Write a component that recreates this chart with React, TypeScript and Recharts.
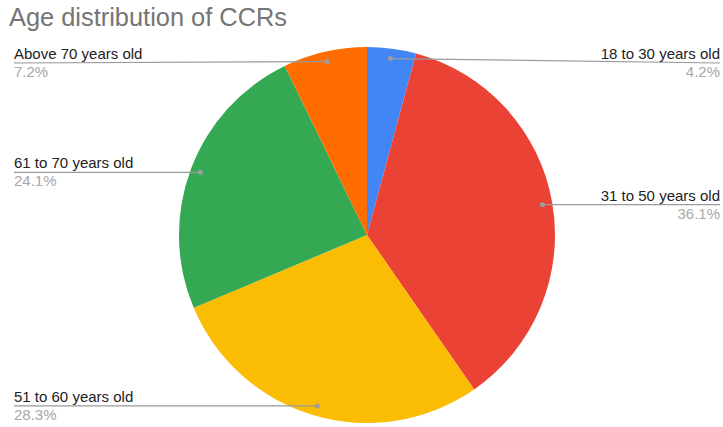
import React from 'react';
import { PieChart, Pie, Cell } from 'recharts';

const categories = ['18 to 30 years old', '31 to 50 years old', '51 to 60 years old', '61 to 70 years old', 'Above 70 years old'];
const shares = [4.2, 36.1, 28.3, 24.1, 7.2];
const colors = ['#4285F4', '#EA4335', '#FBBC04', '#34A853', '#FF6D01'];
const title = 'Age distribution of CCRs';

const data = categories.map((name, i) => ({ name, value: shares[i] }));

const W = 723;
const H = 427;
const FONT = '"Liberation Sans", Arial, sans-serif';
const RAD = Math.PI / 180;

const renderLabel = (props: any) => {
  const { cx, cy, midAngle, outerRadius, name, percent } = props;
  const r = outerRadius - 10;
  const dx = cx + r * Math.cos(-midAngle * RAD);
  const dy = cy + r * Math.sin(-midAngle * RAD);
  const left = dx < cx;
  const edgeX = left ? 14 : 720;
  const lineY = Math.max(dy, 63);
  return (
    <g>
      <line x1={dx} y1={dy} x2={edgeX} y2={lineY} stroke="#9a9a9a" strokeWidth={1.2} />
      <circle cx={dx} cy={dy} r={2.5} fill="#9e9e9e" />
      <text x={edgeX} y={lineY - 4} textAnchor={left ? 'start' : 'end'} fontFamily={FONT} fontSize={15} fill="#222222">
        {name}
      </text>
      <text x={edgeX} y={lineY + 14} textAnchor={left ? 'start' : 'end'} fontFamily={FONT} fontSize={15} fill="#a8a8a8">
        {(percent * 100).toFixed(1) + '%'}
      </text>
    </g>
  );
};

export default function App() {
  return (
    <div style={{ position: 'absolute', left: 0, top: 0, width: W, height: H, background: '#ffffff' }}>
      <svg width={W} height={40} style={{ position: 'absolute', left: 0, top: 0 }}>
        <text x={9} y={26} fontFamily={FONT} fontSize={25.4} fill="#757575">{title}</text>
      </svg>
      <div style={{ position: 'absolute', left: 0, top: 0 }}>
        <PieChart width={W} height={H} margin={{ top: 0, right: 0, bottom: 0, left: 0 }}>
          <Pie
            data={data}
            dataKey="value"
            nameKey="name"
            cx={367}
            cy={235}
            outerRadius={188}
            startAngle={90}
            endAngle={-270}
            stroke="none"
            label={renderLabel}
            labelLine={false}
            isAnimationActive={false}
          >
            {data.map((d, i) => (
              <Cell key={d.name} fill={colors[i]} />
            ))}
          </Pie>
        </PieChart>
      </div>
    </div>
  );
}
